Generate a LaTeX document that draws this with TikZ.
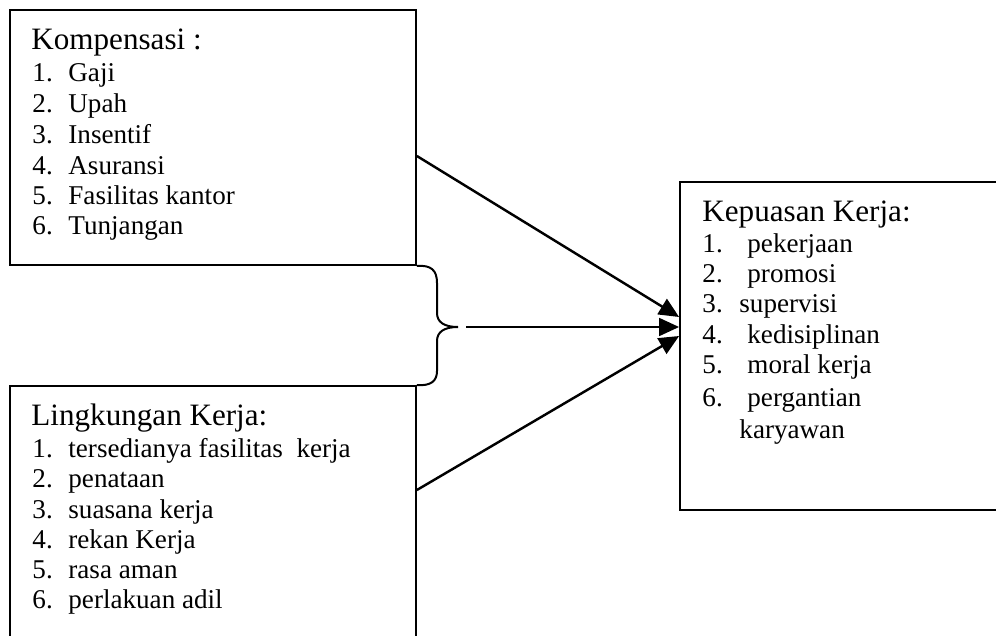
\documentclass[tikz,border=0pt]{standalone}
\usepackage{fontspec}
\setmainfont{Liberation Serif}
\usetikzlibrary{arrows.meta,fit}

\newcommand{\butir}[3][16.2pt]{\makebox[#1][l]{#2}#3}

\begin{document}
\begin{tikzpicture}[x=0.45pt, y=-0.45pt,
    kotak/.style={draw, line width=0.8pt, inner sep=0pt},
    judul/.style={anchor=base west, inner sep=0pt, font=\fontsize{14}{16}\selectfont},
    isi/.style={anchor=base west, inner sep=0pt, font=\fontsize{12.2}{14}\selectfont},
    panah/.style={line width=1.1pt, -{Triangle[length=9pt, width=8pt]}}]
    \useasboundingbox (0,0) rectangle (996,635);

    % Boxes
    \node[kotak, fit={(10,10) (416,265)}] (komp) {};
    \node[kotak, fit={(10,386) (416,660)}] (ling) {};
    \node[kotak, fit={(680,182) (1020,510)}] (puas) {};

    % Kompensasi
    \node[judul] (kompJudul) at (31,50) {Kompensasi :};
    \node[isi] (komp1) at (32,82) {\butir{1.}{Gaji}};
    \node[isi] (komp2) at (32,113) {\butir{2.}{Upah}};
    \node[isi] (komp3) at (32,143) {\butir{3.}{Insentif}};
    \node[isi] (komp4) at (32,174) {\butir{4.}{Asuransi}};
    \node[isi] (komp5) at (32,204) {\butir{5.}{Fasilitas kantor}};
    \node[isi] (komp6) at (32,234) {\butir{6.}{Tunjangan}};

    % Lingkungan Kerja
    \node[judul] (lingJudul) at (31,425) {Lingkungan Kerja:};
    \node[isi] (ling1) at (32,457) {\butir{1.}{tersedianya fasilitas\ \ kerja}};
    \node[isi] (ling2) at (32,487) {\butir{2.}{penataan}};
    \node[isi] (ling3) at (32,518) {\butir{3.}{suasana kerja}};
    \node[isi] (ling4) at (32,548) {\butir{4.}{rekan Kerja}};
    \node[isi] (ling5) at (32,578) {\butir{5.}{rasa aman}};
    \node[isi] (ling6) at (32,608) {\butir{6.}{perlakuan adil}};

    % Kepuasan Kerja
    \node[judul] (puasJudul) at (702,221) {Kepuasan Kerja:};
    \node[isi] (puas1) at (702,252) {\butir[20.25pt]{1.}{pekerjaan}};
    \node[isi] (puas2) at (702,282) {\butir[20.25pt]{2.}{promosi}};
    \node[isi] (puas3) at (702,312) {\butir[16.65pt]{3.}{supervisi}};
    \node[isi] (puas4) at (702,343) {\butir[20.25pt]{4.}{kedisiplinan}};
    \node[isi] (puas5) at (702,373) {\butir[20.25pt]{5.}{moral kerja}};
    \node[isi] (puas6) at (702,406) {\butir[20.25pt]{6.}{pergantian}};
    \node[isi] (puas7) at (739,438) {karyawan};

    % Brace between the two left boxes
    \coordinate (tip) at (458,327);
    \draw[line width=0.9pt] (komp.south east) .. controls (431,265) and (437,270) .. (437,283)
        -- (437,313) .. controls (437,322) and (444,327) .. (tip)
        .. controls (444,327) and (437,332) .. (437,341)
        -- (437,371) .. controls (437,381) and (431,386) .. (ling.north east);

    % Arrows
    \draw[panah] (komp.east |- 0,156) -- (puas.west |- 0,317);
    \draw[panah, shorten <=3.6pt] (tip) -- (puas.west |- tip);
    \draw[panah] (ling.east |- 0,490) -- (puas.west |- 0,336);
\end{tikzpicture}
\end{document}
